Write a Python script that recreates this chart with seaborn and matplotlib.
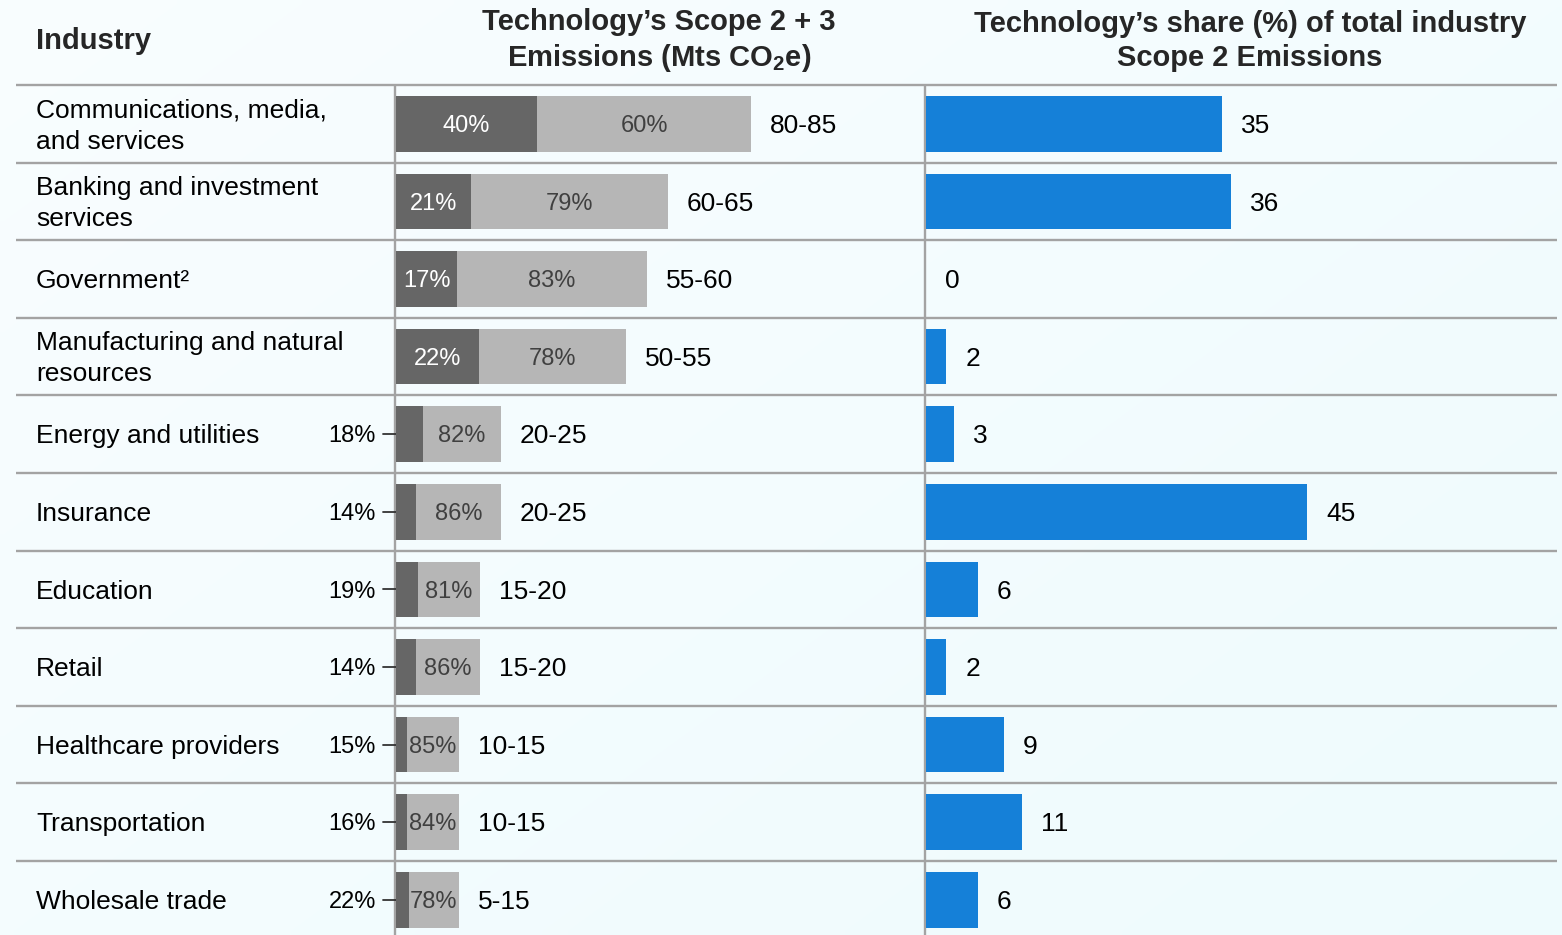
import matplotlib
matplotlib.use("Agg")
import matplotlib.pyplot as plt
import seaborn as sns
import pandas as pd
import numpy as np

# ---------------- data ----------------
industries = [
    "Communications, media,\nand services",
    "Banking and investment\nservices",
    "Government²",
    "Manufacturing and natural\nresources",
    "Energy and utilities",
    "Insurance",
    "Education",
    "Retail",
    "Healthcare providers",
    "Transportation",
    "Wholesale trade",
]
range_labels = ["80-85", "60-65", "55-60", "50-55", "20-25", "20-25",
                "15-20", "15-20", "10-15", "10-15", "5-15"]
range_upper = [85, 65, 60, 55, 25, 25, 20, 20, 15, 15, 15]
scope2_share = [40, 21, 17, 22, 18, 14, 19, 14, 15, 16, 22]
scope3_share = [60, 79, 83, 78, 82, 86, 81, 86, 85, 84, 78]
# drawn length of the dark (scope 2) segment
scope2_bar = [33.7, 17.9, 14.6, 19.9, 6.5, 4.8, 5.3, 4.8, 2.7, 2.7, 3.1]
# technology's share of total industry scope 2 emissions (bar lengths)
tech_share = [35, 36, 0, 2.4, 3.3, 45, 6.1, 2.4, 9.2, 11.3, 6.1]
tech_labels = ["35", "36", "0", "2", "3", "45", "6", "2", "9", "11", "6"]

# ---------------- style ----------------
BG = "#F1FBFD"
DARK = "#666666"
LIGHT = "#B6B6B6"
BLUE = "#1580D8"
LINE = "#A3A3A3"

sns.set_theme(style="white")
plt.rcParams["font.family"] = ["Liberation Sans", "DejaVu Sans"]
plt.rcParams["mathtext.fontset"] = "custom"
plt.rcParams["mathtext.rm"] = "Liberation Sans:bold"
plt.rcParams["mathtext.it"] = "Liberation Sans:bold"
plt.rcParams["mathtext.bf"] = "Liberation Sans:bold"

df = pd.DataFrame({
    "industry": industries,
    "upper": range_upper,
    "dark": scope2_bar,
    "tech": tech_share,
})

W, H = 1562, 935
fig = plt.figure(figsize=(W / 100, H / 100), dpi=100)
fig.patch.set_facecolor(BG)

# subtle background gradient
ax_grad = fig.add_axes([0, 0, 1, 1], zorder=-10)
gx, gy = np.meshgrid(np.linspace(0, 1, 200), np.linspace(0, 1, 120))
g = np.clip(0.55 * gx + 0.45 * gy, 0, 1)
c0 = np.array([0.975, 0.993, 0.998])
c1 = np.array([0.935, 0.985, 0.995])
img = c0[None, None, :] * (1 - g[..., None]) + c1[None, None, :] * g[..., None]
ax_grad.imshow(img, aspect="auto", extent=[0, 1, 1, 0], interpolation="bilinear")
ax_grad.axis("off")

top = 1 - 85 / H
y_bottom = -0.5 + (H - 85) / 77.6

# table axes in pixel-like x units
ax_bg = fig.add_axes([0, 0, 1, top])
ax_bg.set_xlim(0, W)
ax_bg.set_ylim(y_bottom, -0.5)
ax_bg.axis("off")
ax_bg.patch.set_alpha(0)

n = len(industries)
ax_bg.hlines(np.arange(n) - 0.5, 16, 1557, color=LINE, lw=1.7, clip_on=False, zorder=1)
ax_bg.vlines([395, 925], -0.5, y_bottom, color=LINE, lw=1.7, clip_on=False, zorder=1)

DY = -1.6  # small downward shift so digits sit on row centre

for i, name in enumerate(industries):
    ax_bg.annotate(name, xy=(36, i), xytext=(0, DY), textcoords="offset points",
                   ha="left", va="center", fontsize=19, color="black",
                   linespacing=1.38)

# middle panel
px_mid = 4.18
ax_mid = fig.add_axes([396 / W, 0, (W - 396) / W, top])
sns.barplot(data=df, x="upper", y="industry", color=LIGHT, saturation=1,
            width=0.715, errorbar=None, orient="h", linewidth=0, ax=ax_mid)
sns.barplot(data=df, x="dark", y="industry", color=DARK, saturation=1,
            width=0.715, errorbar=None, orient="h", linewidth=0, ax=ax_mid)
ax_mid.set_xlim(0, (W - 396) / px_mid)
ax_mid.set_ylim(y_bottom, -0.5)
ax_mid.axis("off")
ax_mid.patch.set_alpha(0)

for i in range(n):
    d = scope2_bar[i]
    t = range_upper[i]
    if d >= 8:
        ax_mid.annotate(f"{scope2_share[i]}%", xy=(d / 2, i), xytext=(0, DY),
                        textcoords="offset points", ha="center", va="center",
                        fontsize=17, color="white")
    else:
        ax_bg.annotate(f"{scope2_share[i]}%", xy=(376, i), xytext=(0, DY),
                       textcoords="offset points", ha="right", va="center",
                       fontsize=17, color="black")
        ax_bg.plot([383, 399], [i, i], color="#333333", lw=1.3, zorder=5)
    ax_mid.annotate(f"{scope3_share[i]}%", xy=((d + t) / 2, i), xytext=(0, DY),
                    textcoords="offset points", ha="center", va="center",
                    fontsize=17, color="#404040")
    ax_mid.annotate(range_labels[i], xy=(t, i), xytext=(13.7, DY),
                    textcoords="offset points", ha="left", va="center",
                    fontsize=19, color="black")

# right panel
px_r = 8.47
ax_r = fig.add_axes([926 / W, 0, (W - 926) / W, top])
sns.barplot(data=df, x="tech", y="industry", color=BLUE, saturation=1,
            width=0.715, errorbar=None, orient="h", linewidth=0, ax=ax_r)
ax_r.set_xlim(0, (W - 926) / px_r)
ax_r.set_ylim(y_bottom, -0.5)
ax_r.axis("off")
ax_r.patch.set_alpha(0)
for i in range(n):
    ax_r.annotate(tech_labels[i], xy=(tech_share[i], i), xytext=(13.7, DY),
                  textcoords="offset points", ha="left", va="center",
                  fontsize=19, color="black")

# headers
fig.text(36 / W, 1 - 41 / H, "Industry", ha="left", va="center",
         fontsize=21, fontweight="bold")
fig.text(659 / W, 1 - 41 / H, "Technology’s Scope 2 + 3\nEmissions (Mts CO$_2$e)",
         ha="center", va="center", fontsize=21, fontweight="bold",
         linespacing=1.25, multialignment="center")
fig.text(1250 / W, 1 - 41 / H,
         "Technology’s share (%) of total industry\nScope 2 Emissions",
         ha="center", va="center", fontsize=21, fontweight="bold",
         linespacing=1.25, multialignment="center")

fig.savefig("out.png", dpi=100, facecolor=BG)
